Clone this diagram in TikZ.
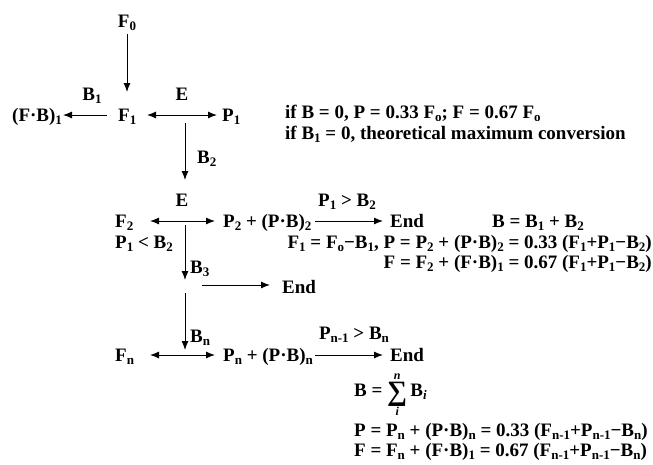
\documentclass[tikz,border=0pt]{standalone}
\usepackage{fontspec}
\setmainfont{Liberation Serif}
\usetikzlibrary{arrows.meta}
\newcommand\sbs[1]{\raisebox{-0.2em}{\fontsize{13}{13}\selectfont #1}}
\newcommand\bigsum{\raisebox{-4pt}{\fontsize{28}{28}\selectfont ∑}}
\begin{document}
\begin{tikzpicture}[x=1pt,y=-1pt,
  txt/.style={inner sep=0pt, font=\fontsize{19}{22}\selectfont\bfseries},
  arr/.style={-{Latex[length=9pt,width=7pt]}, line width=1pt},
  darr/.style={{Latex[length=9pt,width=7pt]}-{Latex[length=9pt,width=7pt]}, line width=1pt}]
\useasboundingbox (0,0) rectangle (653,464);
% nodes
\node[txt, anchor=base] (F0) at (127,27) {F\sbs{0}};
\node[txt, anchor=base west] (FB1) at (12,121) {(F·B)\sbs{1}};
\node[txt, anchor=base west] (F1) at (118,121) {F\sbs{1}};
\node[txt, anchor=base west] (P1) at (222,121) {P\sbs{1}};
\node[txt, anchor=base] (B1l) at (92,100) {B\sbs{1}};
\node[txt, anchor=base] (E1) at (182,100) {E};
\node[txt, anchor=base west] (if1) at (285,118) {if B = 0, P = 0.33 F\sbs{o}; F = 0.67 F\sbs{o}};
\node[txt, anchor=base west] (if2) at (285,139) {if B\sbs{1} = 0, theoretical maximum conversion};
\node[txt, anchor=base west] (B2l) at (197,163) {B\sbs{2}};
\node[txt, anchor=base] (E2) at (182,206) {E};
\node[txt, anchor=base] (c1) at (347,206) {P\sbs{1} > B\sbs{2}};
\node[txt, anchor=base west] (F2) at (115,227) {F\sbs{2}};
\node[txt, anchor=base west] (P2) at (223,227) {P\sbs{2} + (P·B)\sbs{2}};
\node[txt, anchor=base west] (End1) at (390,227) {End};
\node[txt, anchor=base west] (Bs1) at (492,227) {B = B\sbs{1} + B\sbs{2}};
\node[txt, anchor=base west] (lt) at (115,248) {P\sbs{1} < B\sbs{2}};
\node[txt, anchor=base east] (eq1) at (652,248) {F\sbs{1} = F\sbs{o}−B\sbs{1}, P = P\sbs{2} + (P·B)\sbs{2} = 0.33 (F\sbs{1}+P\sbs{1}−B\sbs{2})};
\node[txt, anchor=base east] (eq2) at (652,268) {F = F\sbs{2} + (F·B)\sbs{1} = 0.67 (F\sbs{1}+P\sbs{1}−B\sbs{2})};
\node[txt, anchor=base west] (B3l) at (190,273) {B\sbs{3}};
\node[txt, anchor=base west] (End2) at (282,293) {End};
\node[txt, anchor=base west] (Bnl) at (190,342) {B\sbs{n}};
\node[txt, anchor=base] (cn) at (354,339) {P\sbs{n-1} > B\sbs{n}};
\node[txt, anchor=base west] (Fn) at (115,361) {F\sbs{n}};
\node[txt, anchor=base west] (Pn) at (223,361) {P\sbs{n} + (P·B)\sbs{n}};
\node[txt, anchor=base west] (End3) at (390,361) {End};
\node[txt, anchor=base west] (Bs) at (354,396) {B = $\mathop{\hbox{\bigsum}}\limits^{\hbox{\fontsize{12}{12}\selectfont\bfseries\itshape n}}_{\hbox{\fontsize{12}{12}\selectfont\bfseries\itshape i}}$\,B\sbs{\itshape i}};
\node[txt, anchor=base west] (eqP) at (354,436) {P = P\sbs{n} + (P·B)\sbs{n} = 0.33 (F\sbs{n-1}+P\sbs{n-1}−B\sbs{n})};
\node[txt, anchor=base west] (eqF) at (354,456) {F = F\sbs{n} + (F·B)\sbs{1} = 0.67 (F\sbs{n-1}+P\sbs{n-1}−B\sbs{n})};
% arrow end points
\coordinate (a0) at (127,34);   \coordinate (a1) at (127,92);
\coordinate (l1) at (107,115);  \coordinate (l2) at (63,115);
\coordinate (d1) at (147,115);  \coordinate (d2) at (217,115);
\coordinate (v1) at (185,123);  \coordinate (v2) at (185,180);
\coordinate (e1) at (150,221);  \coordinate (e2) at (215,221);
\coordinate (r1) at (315,221);  \coordinate (r2) at (383,221);
\coordinate (w1) at (185,225);  \coordinate (w2) at (185,280);
\coordinate (s1) at (202,285);  \coordinate (s2) at (270,285);
\coordinate (u1) at (185,293);  \coordinate (u2) at (185,350);
\coordinate (g1) at (150,355);  \coordinate (g2) at (215,355);
\coordinate (h1) at (315,355);  \coordinate (h2) at (383,355);
% connectors
\draw[arr] (a0) -- (a1);
\draw[arr] (l1) -- (l2);
\draw[darr] (d1) -- (d2);
\draw[arr] (v1) -- (v2);
\draw[darr] (e1) -- (e2);
\draw[arr] (r1) -- (r2);
\draw[arr] (w1) -- (w2);
\draw[arr] (s1) -- (s2);
\draw[arr] (u1) -- (u2);
\draw[darr] (g1) -- (g2);
\draw[arr] (h1) -- (h2);
\end{tikzpicture}
\end{document}
